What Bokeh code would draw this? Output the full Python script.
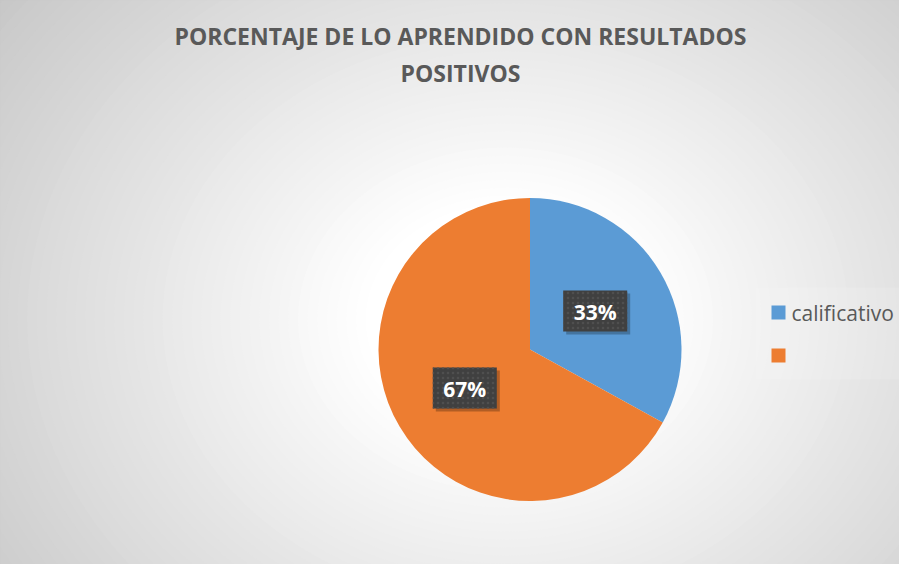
import numpy as np
from bokeh.plotting import figure
from bokeh.models import Label, ColumnDataSource
from bokeh.core.properties import value
from bokeh.embed import file_html
from bokeh.resources import INLINE

# ---- data ----
title_lines = ["PORCENTAJE DE LO APRENDIDO CON RESULTADOS", "POSITIVOS"]
categories = ["calificativo", ""]
values = [33, 67]
colors = ["#5B9BD5", "#ED7D31"]

W, H = 899, 564
p = figure(width=W, height=H, x_range=(0, W), y_range=(0, H),
           output_backend="svg", toolbar_location=None, min_border=0)
p.axis.visible = False
p.grid.visible = False
p.outline_line_color = "#c8c8c8"
p.background_fill_color = "#c3c3c3"
p.border_fill_color = "white"

# ---- radial gradient background ----
gcx, gcy = 505, 245
ga, gb = 700, 580
ts = np.linspace(1.25, 0.02, 90)
gcol = []
for t in ts:
    k = np.clip((t - 0.2) / 0.8, 0, 1) ** 1.0
    g = int(round(255 - 62 * k))
    gcol.append("#%02x%02x%02x" % (g, g, g))
p.ellipse(x=[gcx] * len(ts), y=[gcy] * len(ts), width=list(2 * ga * ts),
          height=list(2 * gb * ts), fill_color=gcol, line_color=None)

# ---- pie ----
cx, cy, R = 529.5, 215, 151.5
vals = np.array(values, dtype=float)
frac = vals / vals.sum()
cum = np.cumsum(frac)
starts = np.pi / 2 - 2 * np.pi * (cum - frac)
ends = np.pi / 2 - 2 * np.pi * cum
src = ColumnDataSource(dict(start=starts, end=ends, color=colors))
p.wedge(x=cx, y=cy, radius=R, start_angle="start", end_angle="end",
        direction="clock", fill_color="color", line_color=None, source=src)

# ---- data labels ----
mid = (starts + ends) / 2
lx = cx + 0.5 * R * np.cos(mid)
ly = cy + 0.5 * R * np.sin(mid)
labels = ["%d%%" % round(f * 100) for f in frac]
bw, bh = 64, 41
p.rect(x=lx + 3, y=ly - 3, width=bw, height=bh, fill_color="black",
       fill_alpha=0.25, line_color=None)
p.rect(x=lx, y=ly, width=bw, height=bh, fill_color="#404040",
       line_color=None, hatch_pattern="dot", hatch_color="#4f4f4f",
       hatch_scale=5, hatch_weight=1)
p.text(x=lx, y=ly - 1, text=labels, text_align="center", text_baseline="middle",
       text_color="white", text_font=value("Open Sans"),
       text_font_style="bold", text_font_size="21px")

# ---- legend ----
p.rect(x=[831], y=[231], width=152, height=92, fill_color="white",
       fill_alpha=0.12, line_color=None)
leg_x, leg_top, leg_step = 778, 252, 43
ly_leg = [leg_top - i * leg_step for i in range(len(categories))]
p.rect(x=[leg_x] * len(categories), y=ly_leg, width=14, height=14,
       fill_color=colors, line_color=None)
p.text(x=[leg_x + 13] * len(categories), y=ly_leg, text=categories,
       text_baseline="middle", text_align="left", text_color="#595959",
       text_font=value("Open Sans"), text_font_size="21px")

# ---- title ----
for i, line in enumerate(title_lines):
    p.add_layout(Label(x=460, y=528.5 - i * 37, text=line, text_align="center",
                       text_baseline="middle", text_color="#595959",
                       text_font="Open Sans", text_font_style="bold",
                       text_font_size="23px"))

open("out.html", "w").write(file_html(p, INLINE))
